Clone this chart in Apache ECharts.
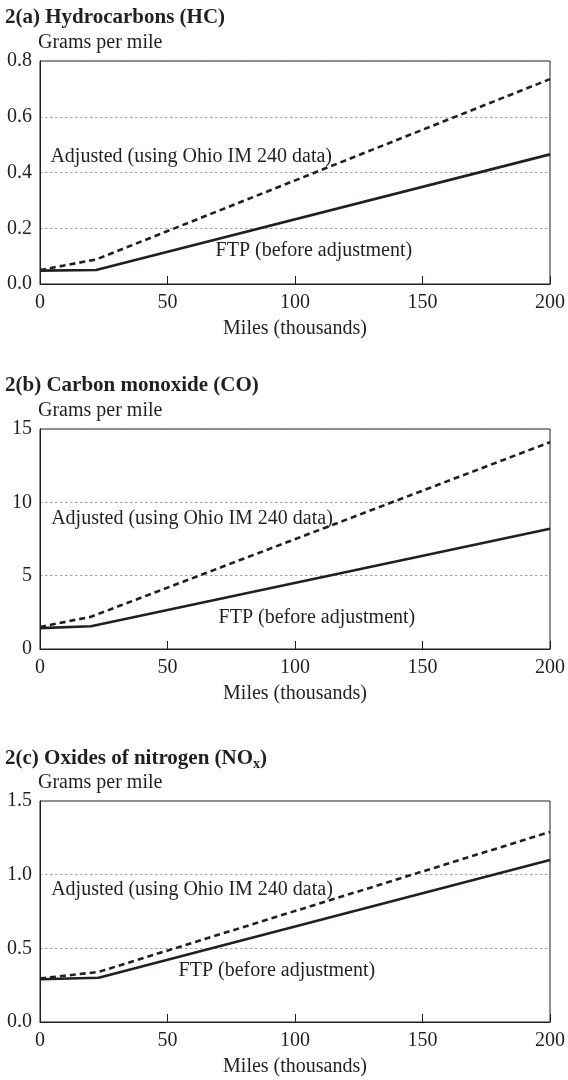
<!DOCTYPE html>
<html>
<head>
<meta charset="utf-8">
<style>
  html, body { margin: 0; padding: 0; background: #fff; }
  #chart { width: 568px; height: 1080px; }
</style>
<script src="https://cdn.jsdelivr.net/npm/echarts@6/dist/echarts.min.js"></script>
</head>
<body>
<div id="chart"></div>
<script>
// Emissions per mile versus accumulated mileage (thousands of miles)
const xTicks = [0, 50, 100, 150, 200];

// 2(a) Hydrocarbons
const hcMiles = [0, 22, 200];
const hcFtp = [0.048, 0.05, 0.465];
const hcAdjusted = [0.05, 0.088, 0.735];

// 2(b) Carbon monoxide
const coMiles = [0, 20, 200];
const coFtp = [1.42, 1.55, 8.2];
const coAdjusted = [1.5, 2.2, 14.1];

// 2(c) Oxides of nitrogen
const noxMiles = [0, 23, 200];
const noxFtp = [0.29, 0.30, 1.10];
const noxAdjusted = [0.295, 0.34, 1.29];

const yTicksHC = [0, 0.2, 0.4, 0.6, 0.8];
const yTicksCO = [0, 5, 10, 15];
const yTicksNOx = [0, 0.5, 1.0, 1.5];

const adjustedLabel = 'Adjusted (using Ohio IM 240 data)';
const ftpLabel = 'FTP (before adjustment)';
const unitLabel = 'Grams per mile';
const xName = 'Miles (thousands)';

const INK = '#231f20';
const FONT = '"Liberation Serif", "DejaVu Serif", serif';
const FS = 20;

const panels = [
  {
    title: '2(a) Hydrocarbons (HC)',
    miles: hcMiles, ftp: hcFtp, adj: hcAdjusted, yTicks: yTicksHC, digits: 1,
    top: 61, height: 223,
    adjAt: [59.3, 0.456], ftpAt: [107.4, 0.118]
  },
  {
    title: '2(b) Carbon monoxide (CO)',
    miles: coMiles, ftp: coFtp, adj: coAdjusted, yTicks: yTicksCO, digits: 0,
    top: 429, height: 220,
    adjAt: [59.6, 8.85], ftpAt: [108.6, 2.12]
  },
  {
    title: '2(c) Oxides of nitrogen (NO{sub|x})',
    miles: noxMiles, ftp: noxFtp, adj: noxAdjusted, yTicks: yTicksNOx, digits: 1,
    top: 801, height: 221,
    adjAt: [59.6, 0.897], ftpAt: [92.9, 0.349]
  }
];

const pairs = (xs, ys) => xs.map((x, i) => [x, ys[i]]);

const option = {
  backgroundColor: '#fff',
  animation: false,
  title: [],
  grid: [],
  xAxis: [],
  yAxis: [],
  series: []
};

panels.forEach((p, i) => {
  option.title.push({
    text: p.title,
    left: 5, top: p.top - 54, padding: 0,
    textStyle: {
      fontFamily: FONT, fontSize: 21, fontWeight: 'bold', color: INK,
      rich: { sub: { fontFamily: FONT, fontSize: 14, fontWeight: 'bold', color: INK, verticalAlign: 'bottom', padding: [10, 0, 0, 0] } }
    }
  });
  option.title.push({
    text: unitLabel,
    left: 38, top: p.top - 28, padding: 0,
    textStyle: { fontFamily: FONT, fontSize: FS, fontWeight: 'normal', color: INK }
  });

  option.grid.push({
    left: 40, width: 510, top: p.top, height: p.height,
    show: true, borderColor: INK, borderWidth: 1, backgroundColor: 'transparent'
  });

  option.xAxis.push({
    type: 'value', gridIndex: i, min: xTicks[0], max: xTicks[xTicks.length - 1],
    interval: xTicks[1] - xTicks[0],
    name: xName, nameLocation: 'middle', nameGap: 35,
    nameTextStyle: { fontFamily: FONT, fontSize: FS, color: INK },
    axisLine: { show: true, lineStyle: { color: INK, width: 1 } },
    axisTick: { show: true, inside: true, length: 8, lineStyle: { color: INK, width: 1 } },
    axisLabel: { fontFamily: FONT, fontSize: FS, color: INK, margin: 9 },
    splitLine: { show: false }
  });

  const yMin = p.yTicks[0];
  const yMax = p.yTicks[p.yTicks.length - 1];
  option.yAxis.push({
    type: 'value', gridIndex: i, min: yMin, max: yMax,
    interval: p.yTicks[1] - p.yTicks[0],
    axisLine: { show: true, lineStyle: { color: INK, width: 1 } },
    axisTick: { show: false },
    axisLabel: {
      fontFamily: FONT, fontSize: FS, color: INK, margin: 8,
      formatter: v => v.toFixed(p.digits)
    },
    splitLine: {
      show: true,
      lineStyle: { color: '#8a8a8a', width: 0.8, type: [2.5, 2.5] }
    }
  });

  option.series.push({
    type: 'line', xAxisIndex: i, yAxisIndex: i,
    data: pairs(p.miles, p.adj),
    symbol: 'none', smooth: false, silent: true,
    lineStyle: { color: INK, width: 2.6, type: [6, 4] },
    z: 3,
    markPoint: {
      symbol: 'circle', symbolSize: 0, silent: true,
      label: { show: true, position: 'inside', formatter: adjustedLabel,
        fontFamily: FONT, fontSize: FS, color: INK },
      data: [{ coord: p.adjAt }]
    }
  });
  option.series.push({
    type: 'line', xAxisIndex: i, yAxisIndex: i,
    data: pairs(p.miles, p.ftp),
    symbol: 'none', smooth: false, silent: true,
    lineStyle: { color: INK, width: 2.6 },
    z: 4,
    markPoint: {
      symbol: 'circle', symbolSize: 0, silent: true,
      label: { show: true, position: 'inside', formatter: ftpLabel,
        fontFamily: FONT, fontSize: FS, color: INK },
      data: [{ coord: p.ftpAt }]
    }
  });
});

const chart = echarts.init(document.getElementById('chart'), null, { renderer: 'canvas' });
chart.setOption(option);
</script>
</body>
</html>
